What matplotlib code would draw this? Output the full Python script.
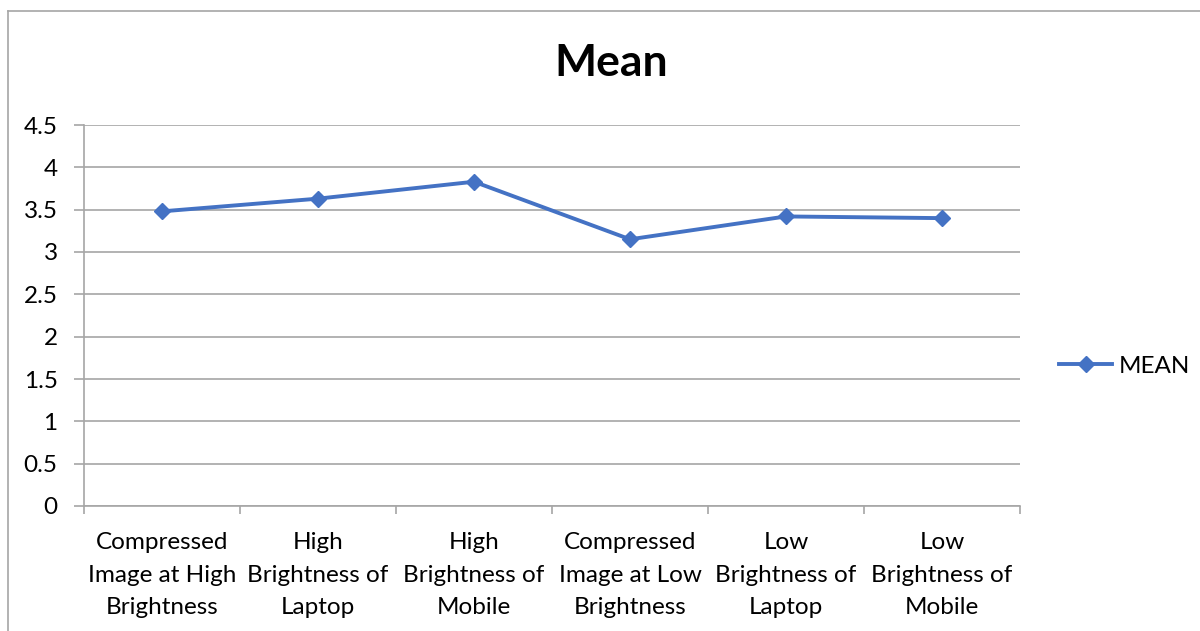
import matplotlib
matplotlib.use("Agg")
import matplotlib.pyplot as plt
from matplotlib.lines import Line2D

categories = [
    "Compressed\nImage at High\nBrightness",
    "High\nBrightness of\nLaptop",
    "High\nBrightness of\nMobile",
    "Compressed\nImage at Low\nBrightness",
    "Low\nBrightness of\nLaptop",
    "Low\nBrightness of\nMobile",
]
mean_values = [3.48, 3.63, 3.83, 3.15, 3.42, 3.40]
y_ticks = [0, 0.5, 1, 1.5, 2, 2.5, 3, 3.5, 4, 4.5]
y_tick_labels = ["0", "0.5", "1", "1.5", "2", "2.5", "3", "3.5", "4", "4.5"]
series_name = "MEAN"
title = "Mean"

plt.rcParams['font.family'] = ['Lato', 'DejaVu Sans']

W, H = 1200, 631
fig = plt.figure(figsize=(W / 100, H / 100), dpi=100)
ax = fig.add_axes([84 / W, 1 - 506 / H, (1020 - 84) / W, (506 - 125) / H])

color = "#4472C4"
grid_c = "#a6a6a6"
fs = 17.5
x = list(range(len(categories)))
line, = ax.plot(x, mean_values, color=color, lw=2.8, marker="D", markersize=8.5,
                solid_capstyle="round", zorder=3, label=series_name)

ax.set_xlim(-0.5, len(categories) - 0.5)
ax.set_ylim(0, 4.5)
ax.set_yticks(y_ticks)
ax.set_yticklabels(y_tick_labels)
ax.yaxis.grid(True, color=grid_c, lw=1.2)
ax.set_axisbelow(True)

ax.set_xticks(x)
ax.set_xticklabels(categories, fontsize=fs, linespacing=1.7)
ax.set_xticks([i - 0.5 for i in range(len(categories) + 1)], minor=True)
ax.tick_params(axis="x", which="major", length=0, pad=18.5)
ax.tick_params(axis="x", which="minor", length=6, color=grid_c, width=1.2)
ax.tick_params(axis="y", length=7, color=grid_c, width=1.2, labelsize=fs, pad=12)

for s in ["top", "right"]:
    ax.spines[s].set_visible(False)
for s in ["left", "bottom"]:
    ax.spines[s].set_color(grid_c)
    ax.spines[s].set_linewidth(1.2)

fig.text(611 / W, 1 - 63 / H, title, fontsize=32, fontweight="bold",
         ha="center", va="center")

handle = Line2D([], [], color=color, lw=2.8, marker="D", markersize=8.5)
fig.legend([handle], [series_name], loc="center left",
           bbox_to_anchor=(1037 / W, 1 - 366 / H), frameon=False,
           fontsize=fs, handlelength=2.2, handletextpad=0.25)

# chart outer border
fig.add_artist(Line2D([8 / W, 1.0], [1 - 11 / H, 1 - 11 / H], color=grid_c, lw=1.2,
                      transform=fig.transFigure))
fig.add_artist(Line2D([8 / W, 8 / W], [1 - 11 / H, 0], color=grid_c, lw=1.2,
                      transform=fig.transFigure))

fig.savefig("out.png", dpi=100)
